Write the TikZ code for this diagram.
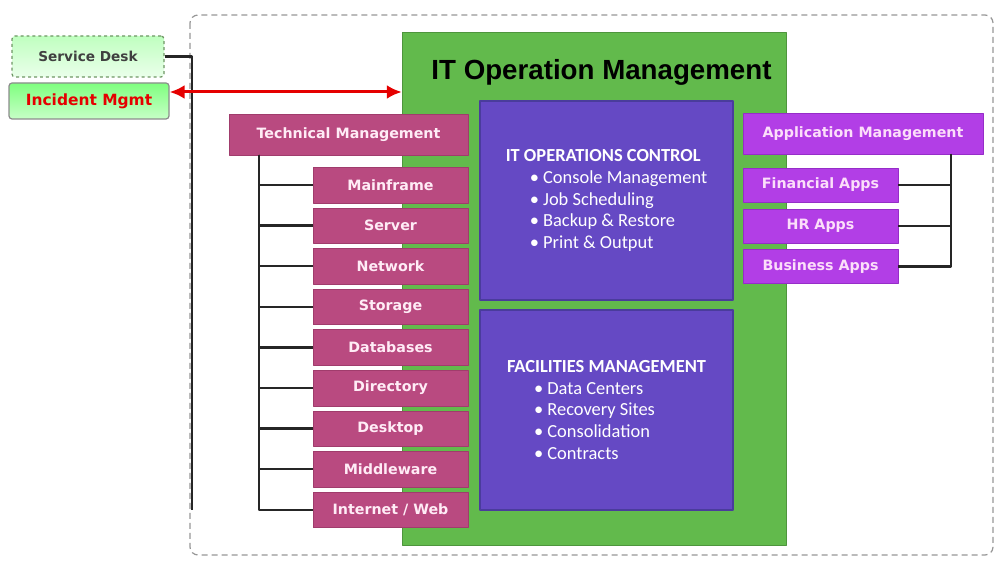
\documentclass[tikz,border=0pt]{standalone}
\usepackage{fontspec}
\setmainfont{DejaVu Sans}
\newfontfamily\headfont{Liberation Sans}
\newfontfamily\opsfont{Carlito}
\usetikzlibrary{arrows.meta}

\definecolor{opsgreen}{RGB}{98,186,76}
\definecolor{opsviolet}{RGB}{101,73,196}
\definecolor{opsedge}{RGB}{74,60,156}
\definecolor{techpink}{RGB}{185,74,128}
\definecolor{techedge}{RGB}{160,60,108}
\definecolor{techtext}{RGB}{255,236,246}
\definecolor{appviolet}{RGB}{178,62,230}
\definecolor{appedge}{RGB}{150,45,200}
\definecolor{apptext}{RGB}{252,222,250}
\definecolor{deskedge}{RGB}{110,150,100}
\definecolor{frameedge}{RGB}{150,150,150}

\tikzset{
  techbox/.style={draw=techedge, fill=techpink, text=techtext, inner sep=0pt,
    font=\bfseries\fontsize{14.3}{16}\selectfont, minimum height=35.6bp},
  appbox/.style={draw=appedge, fill=appviolet, text=apptext, inner sep=0pt,
    font=\bfseries\fontsize{14.3}{16}\selectfont, minimum height=34bp},
  opsbox/.style={draw=opsedge, line width=1.5bp, fill=opsviolet, text=white,
    inner sep=0pt, align=left, font=\opsfont\fontsize{18.5}{22}\selectfont,
    minimum width=253bp},
  link/.style={line width=2.5bp, black!85},
}

\begin{document}
\begin{tikzpicture}[>={Latex[length=15bp,width=14bp]},line join=bevel]
  \useasboundingbox (0bp,0bp) rectangle (995bp,562bp);
  % Frame round the operations area
  \draw [frameedge, line width=1.2bp, dash pattern=on 6bp off 4bp, rounded corners=8bp]
    (190bp,547bp) rectangle (993bp,7bp);
%%
  % Node: IT Operation Management
  \node (itom) [fill=opsgreen, draw=opsgreen!80!black, minimum width=384bp, minimum height=513bp]
    at (594bp,273.5bp) {};
  \node (itomtitle) at (601.5bp,490bp)
    {\headfont\bfseries\fontsize{27.8}{30}\selectfont IT Operation Management};
  % Node: IT Operations Control
  \node (opsctrl) [opsbox, minimum height=199bp] at (606.5bp,361.5bp)
    {\textbf{IT OPERATIONS CONTROL}\\
     \hspace*{24bp}\textbullet\ Console Management\\
     \hspace*{24bp}\textbullet\ Job Scheduling\\
     \hspace*{24bp}\textbullet\ Backup \& Restore\\
     \hspace*{24bp}\textbullet\ Print \& Output};
  % Node: Facilities Management
  \node (facmgmt) [opsbox, minimum height=200bp] at (606.5bp,152bp)
    {\textbf{FACILITIES MANAGEMENT}\\
     \hspace*{27bp}\textbullet\ Data Centers\\
     \hspace*{27bp}\textbullet\ Recovery Sites\\
     \hspace*{27bp}\textbullet\ Consolidation\\
     \hspace*{27bp}\textbullet\ Contracts};
%%
  % Node: Service Desk
  \node (sdesk) [draw=deskedge, dashed, line width=1.2bp, rounded corners=3bp,
    top color=green!25!white, bottom color=green!8!white,
    minimum width=152bp, minimum height=41bp, inner sep=0pt,
    text=black!75, font=\bfseries\fontsize{13.7}{15}\selectfont] at (88bp,505.5bp) {Service Desk};
  % Node: Incident Mgmt
  \node (incident) [draw=black!45, line width=1.2bp, rounded corners=3bp,
    top color=green!50!white, bottom color=green!22!white,
    minimum width=160bp, minimum height=36bp, inner sep=0pt,
    text=red!90!black, font=\bfseries\fontsize{15.5}{17}\selectfont] at (89bp,461bp) {Incident Mgmt};
%%
  % Node: Technical Management
  \node (techmgmt) [techbox, minimum width=239bp, minimum height=41bp] at (348.5bp,427.5bp) {Technical Management};
  \node (mainframe) [techbox, minimum width=155bp] at (390.5bp,377bp) {Mainframe};
  \node (server) [techbox, minimum width=155bp] at (390.5bp,336.4bp) {Server};
  \node (network) [techbox, minimum width=155bp] at (390.5bp,295.8bp) {Network};
  \node (storage) [techbox, minimum width=155bp] at (390.5bp,255.2bp) {Storage};
  \node (databases) [techbox, minimum width=155bp] at (390.5bp,214.6bp) {Databases};
  \node (directory) [techbox, minimum width=155bp] at (390.5bp,174bp) {Directory};
  \node (desktop) [techbox, minimum width=155bp] at (390.5bp,133.4bp) {Desktop};
  \node (middleware) [techbox, minimum width=155bp] at (390.5bp,92.8bp) {Middleware};
  \node (internet) [techbox, minimum width=155bp] at (390.5bp,52.2bp) {Internet / Web};
%%
  % Node: Application Management
  \node (appmgmt) [appbox, minimum width=240bp, minimum height=41bp] at (863bp,428.5bp) {Application Management};
  \node (finapps) [appbox, minimum width=155bp] at (820.5bp,377bp) {Financial Apps};
  \node (hrapps) [appbox, minimum width=155bp] at (820.5bp,336bp) {HR Apps};
  \node (bizapps) [appbox, minimum width=155bp] at (820.5bp,295.5bp) {Business Apps};
%%
  \coordinate (deskbus) at (192bp,52bp);
  \coordinate (techbus) at (259bp,407bp);
  \coordinate (appbus) at (951bp,408bp);
  % Edge: Service Desk -> bus
  \draw [link] (sdesk.east) -| (deskbus);
  % Edge: Incident Mgmt <-> IT Operation Management
  \draw [<->, red!90!black, line width=3bp] ([yshift=9bp]incident.east) -- ([yshift=9bp]incident.east -| itom.west);
  % Edge: Technical Management -> teams
  \draw [link] (techbus) |- (mainframe.west);
  \draw [link] (techbus) |- (server.west);
  \draw [link] (techbus) |- (network.west);
  \draw [link] (techbus) |- (storage.west);
  \draw [link] (techbus) |- (databases.west);
  \draw [link] (techbus) |- (directory.west);
  \draw [link] (techbus) |- (desktop.west);
  \draw [link] (techbus) |- (middleware.west);
  \draw [link] (techbus) |- (internet.west);
  % Edge: Application Management -> apps
  \draw [link] (appbus) |- (finapps.east);
  \draw [link] (appbus) |- (hrapps.east);
  \draw [link] (appbus) |- (bizapps.east);
%
\end{tikzpicture}
\end{document}
